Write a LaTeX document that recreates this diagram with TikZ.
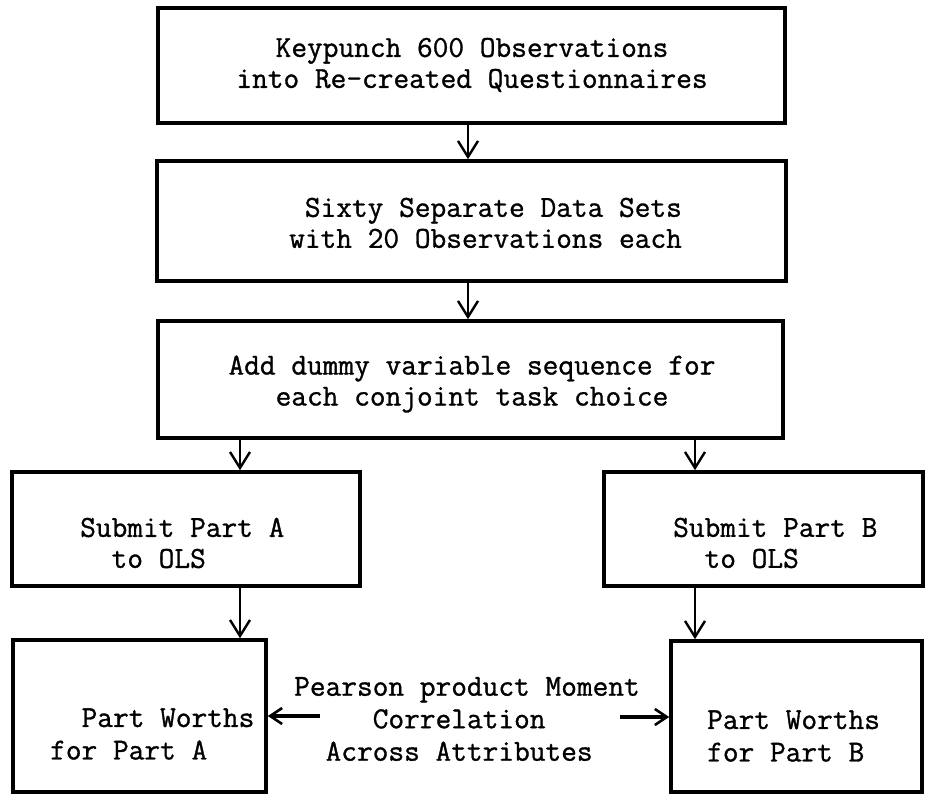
\documentclass[tikz,border=0pt]{standalone}
\usepackage{fontspec}
\usetikzlibrary{arrows.meta}
\newfontfamily\typewriter[FakeBold=1]{Latin Modern Mono}
\newcommand{\boxfont}{\typewriter\fontsize{30.5pt}{31pt}\selectfont}
\newcommand{\lowfont}{\typewriter\fontsize{30.5pt}{32.5pt}\selectfont}

\tikzset{
  box/.style={draw, line width=3.6pt, inner sep=0pt, rectangle},
  lbl/.style={font=\boxfont, inner sep=0pt},
  lowlbl/.style={font=\lowfont, inner sep=0pt, align=left},
  flow/.style={line width=2pt,
    -{Straight Barb[length=16pt,width=20pt,line width=2.4pt]}},
  side/.style={line width=3.8pt,
    -{Straight Barb[length=12pt,width=16pt,line width=2.6pt]}}
}

\begin{document}
\begin{tikzpicture}[x=1pt,y=-1pt]
  \useasboundingbox (0,0) rectangle (926,795);

  % process boxes
  \node[box, minimum width=627pt, minimum height=115pt] (b1) at (471.5,65.5) {};
  \node[box, minimum width=629pt, minimum height=120pt] (b2) at (471.5,221) {};
  \node[box, minimum width=625pt, minimum height=117pt] (b3) at (470.5,379.5) {};
  \node[box, minimum width=348pt, minimum height=114pt] (b4) at (186,529) {};
  \node[box, minimum width=319pt, minimum height=114pt] (b5) at (763.5,529) {};
  \node[box, minimum width=253pt, minimum height=152pt] (b6) at (139.5,716) {};
  \node[box, minimum width=251pt, minimum height=151pt] (b7) at (796.5,716.5) {};

  % box texts
  \node[lbl, align=center] (t1) at (472,65) {Keypunch 600 Observations\\into Re-created Questionnaires};
  \node[lbl, align=left, anchor=west] (t2) at (289,223) {\phantom{x}Sixty Separate Data Sets\\with 20 Observations each};
  \node[lbl, align=center] (t3) at (472,384) {Add dummy variable sequence for\\each conjoint task choice};
  \node[lbl, align=left, anchor=west] (t4) at (80,543) {Submit Part A\\\phantom{xx}to OLS};
  \node[lbl, align=left, anchor=west] (t5) at (673,543) {Submit Part B\\\phantom{xx}to OLS};
  \node[lowlbl, anchor=west] (t6) at (50,734) {\phantom{xx}Part Worths\\for Part A};
  \node[lowlbl, anchor=west] (t7) at (707,736) {Part Worths\\for Part B};
  \node[lowlbl, anchor=west] (t8) at (294,719) {Pearson product Moment\\\phantom{xxxxx}Correlation\\\phantom{xx}Across Attributes};

  % connector columns
  \coordinate (cMid) at (468,0);
  \coordinate (cLeft) at (240,0);
  \coordinate (cRight) at (695,0);
  \coordinate (aL) at (320,716);
  \coordinate (aR) at (620,717);

  % flow arrows
  \draw[flow] (b1.south -| cMid) -- (b2.north -| cMid);
  \draw[flow] (b2.south -| cMid) -- (b3.north -| cMid);
  \draw[flow] (b3.south -| cLeft) -- (b4.north -| cLeft);
  \draw[flow] (b3.south -| cRight) -- (b5.north -| cRight);
  \draw[flow] (b4.south -| cLeft) -- (b6.north -| cLeft);
  \draw[flow] (b5.south -| cRight) -- (b7.north -| cRight);

  % correlation arrows
  \draw[side] (aL) -- (b6.east |- aL);
  \draw[side] (aR) -- (b7.west |- aR);
\end{tikzpicture}
\end{document}
